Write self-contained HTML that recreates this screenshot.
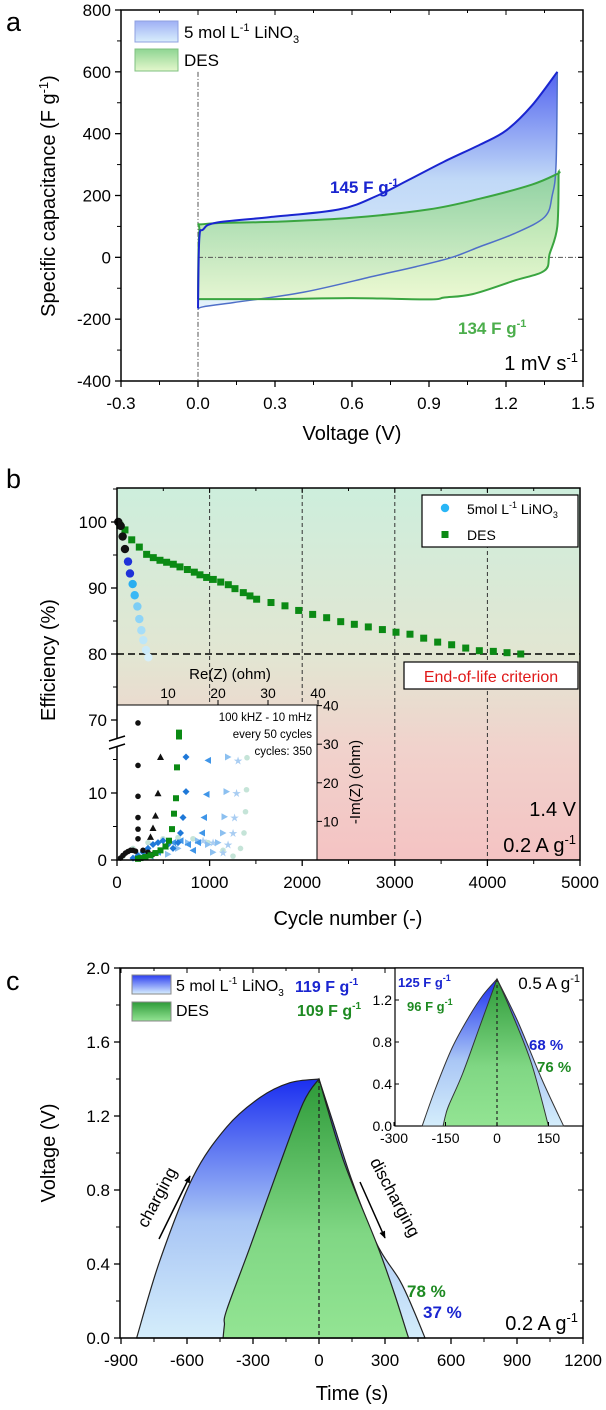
<!DOCTYPE html>
<html><head><meta charset="utf-8"><style>
html,body{margin:0;padding:0;background:#fff;}
svg{display:block;font-family:"Liberation Sans",Arial,sans-serif;}
</style></head><body>
<svg id="fig" width="606" height="1410" viewBox="0 0 606 1410" xmlns="http://www.w3.org/2000/svg">
<defs>
<linearGradient id="gBlueA" x1="0" y1="0" x2="0" y2="1"><stop offset="0" stop-color="#3f52ee"/><stop offset="0.45" stop-color="#b9d4f6"/><stop offset="1" stop-color="#e2f2fb"/></linearGradient>
<linearGradient id="gGreenA" x1="0" y1="0" x2="0" y2="1"><stop offset="0" stop-color="#7fcf85"/><stop offset="1" stop-color="#e6f7c4"/></linearGradient>
<linearGradient id="gBgB" x1="0" y1="0" x2="0" y2="1"><stop offset="0" stop-color="#cdeedc"/><stop offset="0.45" stop-color="#e2e6d2"/><stop offset="0.7" stop-color="#f1d2cc"/><stop offset="1" stop-color="#f4c3c3"/></linearGradient>
<linearGradient id="gBlueC" x1="0" y1="0" x2="0" y2="1"><stop offset="0" stop-color="#1a2ef0"/><stop offset="0.55" stop-color="#a9c6f5"/><stop offset="1" stop-color="#d4edfb"/></linearGradient>
<linearGradient id="gGreenC" x1="0" y1="0" x2="0" y2="1"><stop offset="0" stop-color="#2d9a38"/><stop offset="0.6" stop-color="#80d784"/><stop offset="1" stop-color="#93e493"/></linearGradient>
<linearGradient id="gSwB" x1="0" y1="0" x2="0" y2="1"><stop offset="0" stop-color="#2a3cf0"/><stop offset="1" stop-color="#d8efff"/></linearGradient>
<linearGradient id="gSwG" x1="0" y1="0" x2="0" y2="1"><stop offset="0" stop-color="#2d9a38"/><stop offset="1" stop-color="#93e493"/></linearGradient>
<linearGradient id="gSwBa" x1="0" y1="0" x2="0" y2="1"><stop offset="0" stop-color="#9fb0f5"/><stop offset="1" stop-color="#d9eefc"/></linearGradient>
<linearGradient id="gSwGa" x1="0" y1="0" x2="0" y2="1"><stop offset="0" stop-color="#8fd593"/><stop offset="1" stop-color="#e4f7cc"/></linearGradient>
<marker id="arr" viewBox="0 0 10 10" refX="9" refY="5" markerWidth="5" markerHeight="5" orient="auto"><path d="M0,1 L10,5 L0,9 z" fill="#000"/></marker>
</defs>
<g id="pa"></g>
<g id="pb"></g>
<g id="pc"></g>
</svg>
<script>
// ---------- Panel a data ----------
const cvLiUpV=[0,0.005,0.02,0.07,0.28,0.55,0.7,0.82,0.96,1.1,1.2,1.3,1.4];
const cvLiUpC=[-165,60,90,112,130,155,200,250,310,365,410,490,600];
const cvLiDnV=[1.4,1.395,1.38,1.35,1.23,1.1,0.99,0.85,0.69,0.41,0.14,0.02,0];
const cvLiDnC=[600,300,200,130,76,35,0,-30,-60,-113,-146,-160,-168];
const cvDesUpV=[0,0.005,0.03,0.3,0.6,0.9,1.1,1.3,1.4,1.405];
const cvDesUpC=[-135,80,108,115,128,155,190,235,270,276];
const cvDesDnV=[1.405,1.4,1.37,1.35,1.23,1.07,0.96,0.9,0.6,0.3,0];
const cvDesDnC=[276,100,11,-43,-76,-119,-130,-136,-132,-135,-135];
const aXTicks=[-0.3,0,0.3,0.6,0.9,1.2,1.5];
const aXLabels=["-0.3","0.0","0.3","0.6","0.9","1.2","1.5"];
const aYTicks=[-400,-200,0,200,400,600,800];
// ---------- Panel b data ----------
const desCycles=[30,86,159,241,320,392,464,536,608,680,760,835,896,968,1040,1120,1202,1274,1364,1436,1508,1663,1814,1962,2113,2264,2416,2563,2714,2866,3013,3164,3312,3463,3614,3766,3913,4064,4212,4360];
const desEff=[99.5,98.8,97.3,96.2,95.1,94.6,94.2,93.9,93.6,93.2,92.8,92.4,92.0,91.6,91.3,90.9,90.5,89.9,89.3,88.8,88.3,87.8,87.3,86.6,86.0,85.5,84.9,84.5,84.1,83.7,83.3,83.0,82.4,81.8,81.4,80.9,80.5,80.4,80.2,80.0];
const liCycles=[14,40,61,86,119,140,169,191,220,241,263,284,313,338];
const liEff=[100,99.4,97.8,95.9,94.0,92.2,90.6,88.9,87.2,85.3,83.6,82.1,80.6,79.5];
const liColors=["#111","#111","#111","#111","#1f32d8","#1f32d8","#29aef0","#3ab8f5","#7ccdf5","#8ed4f7","#a6ddf8","#bde6f8","#cbeaf9","#d6effa"];
const bXTicks=[0,1000,2000,3000,4000,5000];
const bYTicksUp=[70,80,90,100];
const bYTicksLow=[0,10];
// inset b (EIS)
const eisBlkRe=[4,4,4,4,4,4,0.5,1,1.5,2,2.5,3,3.5,5,6,7];
const eisBlkIm=[35.5,24.5,16.5,11,8,5.5,0.5,1.2,1.8,2.2,2.5,2.5,2.3,2.5,2,1.5];
const eisTriRe=[8.5,8,7.5,7,6.5];
const eisTriIm=[26.7,17.3,11.5,8.3,6];
const eisDesRe=[12.2,12.2,11.8,11.6,11.2,10.8,10.2,9.5,8.5,7.5,6.5,5.5,4.5,4];
const eisDesIm=[33,32,24,16,12,8,5,3.5,2.5,1.8,1.2,0.8,0.5,0.3];
const eisDiaRe=[13.6,13.6,13,12.5,12,11,10,9,8,7,6,5,4,3];
const eisDiaIm=[26.7,17.7,11,7,4.5,3,4,5,4.5,4,3,2,1.2,0.5];
const eisLtRe=[18,17.7,17.2,16.8,16,15,14,12.5,11,9.5,8,6.5];
const eisLtIm=[25.8,17,11,7,4.5,2.5,4,5,4.5,3.5,2,1];
const eisRtRe=[22,21.7,21.3,21,20,19,18,16,14,12,10];
const eisRtIm=[26.7,17.7,11.2,7,4.5,2,4,5,4.5,3,1.5];
const eisStarRe=[24,23.7,23.3,23,22,21,19,17];
const eisStarIm=[25.8,17.3,11,7,4,2,4.5,5];
const eisTealRe=[25.8,25.7,25.5,25.2,24.5,23,21,18,15,12,9,6,3,1];
const eisTealIm=[26.5,18.2,12.5,7,3,1,2.5,4.5,5.5,5.8,5.5,4.5,3,1];
const insXTicks=[10,20,30,40];
const insYTicks=[10,20,30,40];
// ---------- Panel c data ----------
const gcdLiChT=[-829,-723,-573,-420,-268,-132,0];
const gcdLiChV=[0,0.42,0.87,1.14,1.30,1.38,1.4];
const gcdLiDisT=[0,60,150,262,368,430,482];
const gcdLiDisV=[1.4,1.18,0.85,0.51,0.31,0.15,0];
const gcdDesChT=[-436,-430,-420,-314,-193,-72,0];
const gcdDesChV=[0,0.07,0.15,0.49,0.89,1.27,1.4];
const gcdDesDisT=[0,111,262,340,399,408];
const gcdDesDisV=[1.4,0.96,0.51,0.25,0.03,0];
const cXTicks=[-900,-600,-300,0,300,600,900,1200];
const cYTicks=[0,0.4,0.8,1.2,1.6,2.0];
// inset c
const inLiChT=[-218,-180,-130,-80,-40,0];
const inLiChV=[0,0.35,0.75,1.05,1.25,1.4];
const inLiDisT=[0,60,130,194];
const inLiDisV=[1.4,1.0,0.45,0];
const inDesChT=[-157,-150,-140,-100,-50,0];
const inDesChV=[0,0.1,0.2,0.5,0.95,1.4];
const inDesDisT=[0,40,100,150];
const inDesDisV=[1.4,1.1,0.6,0];
const icXTicks=[-300,-150,0,150];
const icYTicks=[0,0.4,0.8,1.2];

const NS="http://www.w3.org/2000/svg";
function mk(parent,tag,attrs,txt){const e=document.createElementNS(NS,tag);for(const k in attrs)e.setAttribute(k,attrs[k]);if(txt!==undefined)e.textContent=txt;parent.appendChild(e);return e;}
function pts(xs,ys,fx,fy){return xs.map((x,i)=>fx(x)+","+fy(ys[i])).join(" ");}
// smooth path through points (Catmull-Rom -> Bezier). start: 'M' or 'L'
function smooth(xs,ys,fx,fy,start){
 const P=xs.map((x,i)=>[fx(x),fy(ys[i])]);
 let d=(start||'M')+P[0][0].toFixed(2)+","+P[0][1].toFixed(2);
 for(let i=0;i<P.length-1;i++){
  const p0=P[i-1]||P[i],p1=P[i],p2=P[i+1],p3=P[i+2]||P[i+1];
  const c1=[p1[0]+(p2[0]-p0[0])/6,p1[1]+(p2[1]-p0[1])/6];
  const c2=[p2[0]-(p3[0]-p1[0])/6,p2[1]-(p3[1]-p1[1])/6];
  d+=" C"+c1[0].toFixed(2)+","+c1[1].toFixed(2)+" "+c2[0].toFixed(2)+","+c2[1].toFixed(2)+" "+p2[0].toFixed(2)+","+p2[1].toFixed(2);
 }
 return d;}

// ================= PANEL A =================
const pa=document.getElementById('pa');
const ax=v=>121+(v+0.3)*(462/1.8), ay=c=>10+(800-c)*(371/1200);
let el;
el=mk(pa,'text',{x:6,y:31,'font-size':27});el.textContent='a';


el=mk(pa,'path',{d:smooth(cvLiUpV,cvLiUpC,ax,ay)+" "+smooth(cvLiDnV,cvLiDnC,ax,ay,'L')+"Z",fill:'url(#gBlueA)',opacity:0.9});


el=mk(pa,'path',{d:smooth(cvDesUpV,cvDesUpC,ax,ay)+" "+smooth(cvDesDnV,cvDesDnC,ax,ay,'L')+"Z",fill:'url(#gGreenA)',opacity:0.75});


mk(pa,'line',{x1:ax(0),y1:ay(600),x2:ax(0),y2:ay(-400),stroke:'#555','stroke-width':1,'stroke-dasharray':'5,2,1,2'});
mk(pa,'line',{x1:ax(0),y1:ay(0),x2:ax(1.5),y2:ay(0),stroke:'#555','stroke-width':1,'stroke-dasharray':'5,2,1,2'});
el=mk(pa,'path',{d:smooth(cvLiDnV,cvLiDnC,ax,ay),fill:'none',stroke:'#4f6fc8','stroke-width':1.5});


el=mk(pa,'path',{d:smooth(cvDesUpV,cvDesUpC,ax,ay)+" "+smooth(cvDesDnV,cvDesDnC,ax,ay,'L'),fill:'none',stroke:'#3aa540','stroke-width':2});


el=mk(pa,'path',{d:smooth(cvLiUpV,cvLiUpC,ax,ay),fill:'none',stroke:'#1a25d0','stroke-width':2});


mk(pa,'rect',{x:121,y:10,width:462,height:371,fill:'none',stroke:'#000','stroke-width':1.5});
aXTicks.forEach((v,i)=>{mk(pa,'line',{x1:ax(v),y1:381,x2:ax(v),y2:387,stroke:'#000','stroke-width':1.3});mk(pa,'line',{x1:ax(v),y1:10,x2:ax(v),y2:15,stroke:'#000'});
 if(i<aXTicks.length-1){const m=ax(v+0.15);mk(pa,'line',{x1:m,y1:381,x2:m,y2:385,stroke:'#000'});mk(pa,'line',{x1:m,y1:10,x2:m,y2:13,stroke:'#000'});}
 el=mk(pa,'text',{x:ax(v),y:409,'font-size':17,'text-anchor':'middle'},aXLabels[i]);
 
 });
aYTicks.forEach((c,i)=>{mk(pa,'line',{x1:115,y1:ay(c),x2:121,y2:ay(c),stroke:'#000','stroke-width':1.3});mk(pa,'line',{x1:578,y1:ay(c),x2:583,y2:ay(c),stroke:'#000'});
 if(i<aYTicks.length-1){const m=ay(c+100);mk(pa,'line',{x1:117,y1:m,x2:121,y2:m,stroke:'#000'});mk(pa,'line',{x1:580,y1:m,x2:583,y2:m,stroke:'#000'});}
 el=mk(pa,'text',{x:111,y:ay(c)+6,'font-size':17,'text-anchor':'end'},String(c));
 
 });
</script>
<script>
(function(){
const pa=document.getElementById('pa');
pa.insertAdjacentHTML('beforeend',`
<text x="352" y="440" font-size="20" text-anchor="middle">Voltage (V)</text>
<text transform="translate(55,196) rotate(-90)" font-size="20" text-anchor="middle">Specific capacitance (F g<tspan dy="-7" font-size="13">-1</tspan><tspan dy="7">)</tspan></text>
<g>
<rect x="135" y="21" width="43" height="21" fill="url(#gSwBa)" stroke="#8fa0e0"/>
<text x="184" y="38" font-size="17">5 mol L<tspan dy="-7" font-size="11">-1</tspan><tspan dy="7"> LiNO</tspan><tspan dy="5" font-size="11">3</tspan></text>
<rect x="135" y="49" width="43" height="22" fill="url(#gSwGa)" stroke="#7fc080"/>
<text x="184" y="66" font-size="17">DES</text>
</g>
<text x="330" y="193" font-size="17" font-weight="bold" fill="#1a25d0">145 F g<tspan dy="-7" font-size="11">-1</tspan></text>
<text x="458" y="334" font-size="17" font-weight="bold" fill="#4cae4c">134 F g<tspan dy="-7" font-size="11">-1</tspan></text>
<text x="578" y="370" font-size="20" text-anchor="end">1 mV s<tspan dy="-8" font-size="13">-1</tspan></text>
`);
})();
</script>
<script>
// ================= PANEL B =================
(function(){
const pb=document.getElementById('pb');
const bx=c=>117+c*0.0926, by=e=>522+(100-e)*6.6, bl=e=>860-e*6.7;
let el;
el=mk(pb,'rect',{x:117,y:488,width:463,height:372,fill:'url(#gBgB)'});


[1000,2000,3000,4000].forEach(c=>{el=mk(pb,'line',{x1:bx(c),y1:488,x2:bx(c),y2:860,stroke:'#333','stroke-dasharray':'4,3','stroke-width':1});
 
 });
el=mk(pb,'line',{x1:117,y1:by(80),x2:580,y2:by(80),stroke:'#000','stroke-dasharray':'7,4','stroke-width':1.6});


desCycles.forEach((c,i)=>{el=mk(pb,'rect',{x:bx(c)-3.5,y:by(desEff[i])-3.5,width:7,height:7,fill:'#0b8a14'});
 
 });
liCycles.forEach((c,i)=>{el=mk(pb,'circle',{cx:bx(c),cy:by(liEff[i]),r:4.2,fill:liColors[i]});
 
 });
const ix=r=>118+r*5, iy=m=>860-m*3.86;
el=mk(pb,'rect',{x:117,y:705,width:200,height:155,fill:'#fff'});


function ser(re,im,shape,col,name){re.forEach((r,i)=>{const x=ix(r),y=iy(im[i]);let e;
 if(shape==='c')e=mk(pb,'circle',{cx:x,cy:y,r:2.8,fill:col});
 else if(shape==='s')e=mk(pb,'rect',{x:x-3,y:y-3,width:6,height:6,fill:col});
 else if(shape==='t')e=mk(pb,'polygon',{points:`${x},${y-3.5} ${x+3.5},${y+3} ${x-3.5},${y+3}`,fill:col});
 else if(shape==='l')e=mk(pb,'polygon',{points:`${x-3.5},${y} ${x+3},${y-3.5} ${x+3},${y+3.5}`,fill:col});
 else if(shape==='r')e=mk(pb,'polygon',{points:`${x+3.5},${y} ${x-3},${y-3.5} ${x-3},${y+3.5}`,fill:col});
 else if(shape==='d')e=mk(pb,'polygon',{points:`${x},${y-3.5} ${x+3.5},${y} ${x},${y+3.5} ${x-3.5},${y}`,fill:col});
 else e=mk(pb,'text',{x:x,y:y+4,'font-size':11,'text-anchor':'middle',fill:col},'★');
 
 });}
ser(eisTealRe,eisTealIm,'c','#c5e4d8','eis-point-350');
ser(eisStarRe,eisStarIm,'*','#a9cdf2','eis-point-300');
ser(eisRtRe,eisRtIm,'r','#8cc0f0','eis-point-250');
ser(eisLtRe,eisLtIm,'l','#3f95e8','eis-point-200');
ser(eisDiaRe,eisDiaIm,'d','#1e78d8','eis-point-150');
ser(eisTriRe,eisTriIm,'t','#111','eis-point-100');
ser(eisBlkRe,eisBlkIm,'c','#111','eis-point-50');
ser(eisDesRe,eisDesIm,'s','#0b8a14','eis-point-des');
mk(pb,'line',{x1:317,y1:705,x2:317,y2:860,stroke:'#000'});
mk(pb,'line',{x1:117,y1:705,x2:317,y2:705,stroke:'#000'});
insXTicks.forEach(r=>{mk(pb,'line',{x1:ix(r),y1:705,x2:ix(r),y2:700,stroke:'#000'});
 el=mk(pb,'text',{x:ix(r),y:698,'font-size':14,'text-anchor':'middle'},String(r));
 
 });
insYTicks.forEach(m=>{mk(pb,'line',{x1:317,y1:iy(m),x2:322,y2:iy(m),stroke:'#000'});
 el=mk(pb,'text',{x:323,y:iy(m)+5,'font-size':14},String(m));
 
 });
mk(pb,'rect',{x:117,y:488,width:463,height:372,fill:'none',stroke:'#000','stroke-width':1.5});
bXTicks.forEach((c,i)=>{mk(pb,'line',{x1:bx(c),y1:860,x2:bx(c),y2:866,stroke:'#000','stroke-width':1.3});mk(pb,'line',{x1:bx(c),y1:488,x2:bx(c),y2:493,stroke:'#000'});
 if(i<bXTicks.length-1){mk(pb,'line',{x1:bx(c+500),y1:860,x2:bx(c+500),y2:864,stroke:'#000'});mk(pb,'line',{x1:bx(c+500),y1:488,x2:bx(c+500),y2:491,stroke:'#000'});}
 el=mk(pb,'text',{x:bx(c),y:888,'font-size':17,'text-anchor':'middle'},String(c));
 
 });
bYTicksUp.forEach(e=>{mk(pb,'line',{x1:111,y1:by(e),x2:117,y2:by(e),stroke:'#000','stroke-width':1.3});mk(pb,'line',{x1:113,y1:by(e+5),x2:117,y2:by(e+5),stroke:'#000'});
 el=mk(pb,'text',{x:107,y:by(e)+6,'font-size':17,'text-anchor':'end'},String(e));
 
 });
bYTicksLow.forEach(e=>{mk(pb,'line',{x1:111,y1:bl(e),x2:117,y2:bl(e),stroke:'#000','stroke-width':1.3});mk(pb,'line',{x1:113,y1:bl(e+5),x2:117,y2:bl(e+5),stroke:'#000'});
 el=mk(pb,'text',{x:107,y:bl(e)+6,'font-size':17,'text-anchor':'end'},String(e));
 
 });
pb.insertAdjacentHTML('beforeend',`
<g><rect x="108" y="738" width="18" height="9" fill="#fff"/><line x1="109" y1="741" x2="125" y2="736" stroke="#000" stroke-width="1.5"/><line x1="109" y1="749" x2="125" y2="744" stroke="#000" stroke-width="1.5"/></g>
<text x="6" y="488" font-size="27">b</text>
<text x="348" y="925" font-size="20" text-anchor="middle">Cycle number (-)</text>
<text transform="translate(55,660) rotate(-90)" font-size="20" text-anchor="middle">Efficiency (%)</text>
<g>
<rect x="422" y="495" width="156" height="52" fill="#fff" stroke="#000" stroke-width="1.2"/>
<circle cx="445" cy="508" r="4.2" fill="#29b6f6"/>
<text x="467" y="514" font-size="14">5mol L<tspan dy="-6" font-size="9">-1</tspan><tspan dy="6"> LiNO</tspan><tspan dy="4" font-size="9">3</tspan></text>
<rect x="441.5" y="531" width="7" height="7" fill="#0b8a14"/>
<text x="467" y="540" font-size="14">DES</text>
</g>
<g><rect x="404" y="662" width="174" height="27" fill="#fff" stroke="#000" stroke-width="1.2"/><text x="491" y="682" font-size="16" fill="#e01818" text-anchor="middle">End-of-life criterion</text></g>
<text x="230" y="679" font-size="15" text-anchor="middle">Re(Z) (ohm)</text>
<text transform="translate(360,782) rotate(-90)" font-size="15" text-anchor="middle">-Im(Z) (ohm)</text>
<text font-size="11.5" text-anchor="end"><tspan x="312" y="721">100 kHZ - 10 mHz</tspan><tspan x="312" y="738">every 50 cycles</tspan><tspan x="312" y="755">cycles: 350</tspan></text>
<text x="576" y="816" font-size="20" text-anchor="end">1.4 V</text>
<text x="576" y="852" font-size="20" text-anchor="end">0.2 A g<tspan dy="-8" font-size="13">-1</tspan></text>
`);
})();
</script>
<script>
// ================= PANEL C =================
(function(){
const pc=document.getElementById('pc');
const cx=t=>319+t*0.22, cy=v=>1338-v*185;
let el;
el=mk(pc,'path',{d:smooth(gcdLiChT,gcdLiChV,cx,cy)+" "+smooth(gcdLiDisT,gcdLiDisV,cx,cy,'L')+"Z",fill:'url(#gBlueC)',stroke:'#222','stroke-width':1.2});


el=mk(pc,'path',{d:smooth(gcdDesChT,gcdDesChV,cx,cy)+" "+smooth(gcdDesDisT,gcdDesDisV,cx,cy,'L')+"Z",fill:'url(#gGreenC)',stroke:'#222','stroke-width':1.2});


mk(pc,'line',{x1:cx(0),y1:cy(1.4),x2:cx(0),y2:cy(0),stroke:'#222','stroke-dasharray':'4,3','stroke-width':1.3});
mk(pc,'rect',{x:120,y:968,width:463,height:370,fill:'none',stroke:'#000','stroke-width':1.5});
cXTicks.forEach((t,i)=>{mk(pc,'line',{x1:cx(t),y1:1338,x2:cx(t),y2:1344,stroke:'#000','stroke-width':1.3});mk(pc,'line',{x1:cx(t),y1:968,x2:cx(t),y2:973,stroke:'#000'});
 if(i<cXTicks.length-1){mk(pc,'line',{x1:cx(t+150),y1:1338,x2:cx(t+150),y2:1342,stroke:'#000'});mk(pc,'line',{x1:cx(t+150),y1:968,x2:cx(t+150),y2:971,stroke:'#000'});}
 el=mk(pc,'text',{x:cx(t),y:1366,'font-size':17,'text-anchor':'middle'},String(t));
 
 });
cYTicks.forEach((v,i)=>{mk(pc,'line',{x1:114,y1:cy(v),x2:120,y2:cy(v),stroke:'#000','stroke-width':1.3});mk(pc,'line',{x1:578,y1:cy(v),x2:583,y2:cy(v),stroke:'#000'});
 if(i<cYTicks.length-1){mk(pc,'line',{x1:116,y1:cy(v+0.2),x2:120,y2:cy(v+0.2),stroke:'#000'});mk(pc,'line',{x1:580,y1:cy(v+0.2),x2:583,y2:cy(v+0.2),stroke:'#000'});}
 el=mk(pc,'text',{x:110,y:cy(v)+6,'font-size':17,'text-anchor':'end'},v.toFixed(1));
 
 });
const jx=t=>497+t*0.3433, jy=v=>1126-v*105;
el=mk(pc,'rect',{x:395,y:968,width:188,height:158,fill:'#fff',stroke:'#000','stroke-width':1.2});


el=mk(pc,'path',{d:smooth(inLiChT,inLiChV,jx,jy)+" "+smooth(inLiDisT,inLiDisV,jx,jy,'L')+"Z",fill:'url(#gBlueC)',stroke:'#333','stroke-width':1});


el=mk(pc,'path',{d:smooth(inDesChT,inDesChV,jx,jy)+" "+smooth(inDesDisT,inDesDisV,jx,jy,'L')+"Z",fill:'url(#gGreenC)',stroke:'#333','stroke-width':1});


mk(pc,'line',{x1:jx(0),y1:jy(1.4),x2:jx(0),y2:jy(0),stroke:'#222','stroke-dasharray':'3,3','stroke-width':1.2});
icXTicks.forEach(t=>{mk(pc,'line',{x1:jx(t),y1:1126,x2:jx(t),y2:1122,stroke:'#000'});
 el=mk(pc,'text',{x:jx(t),y:1143,'font-size':14,'text-anchor':'middle'},String(t));
 
 });
icYTicks.forEach(v=>{mk(pc,'line',{x1:395,y1:jy(v),x2:399,y2:jy(v),stroke:'#000'});mk(pc,'line',{x1:579,y1:jy(v),x2:583,y2:jy(v),stroke:'#000'});
 el=mk(pc,'text',{x:392,y:jy(v)+5,'font-size':14,'text-anchor':'end'},v.toFixed(1));
 
 });
pc.insertAdjacentHTML('beforeend',`
<text x="6" y="990" font-size="27">c</text>
<text x="352" y="1400" font-size="20" text-anchor="middle">Time (s)</text>
<text transform="translate(55,1153) rotate(-90)" font-size="20" text-anchor="middle">Voltage (V)</text>
<g>
<rect x="132" y="975" width="39" height="19" fill="url(#gSwB)" stroke="#888"/>
<text x="176" y="991" font-size="16">5 mol L<tspan dy="-7" font-size="10">-1</tspan><tspan dy="7"> LiNO</tspan><tspan dy="5" font-size="10">3</tspan></text>
<rect x="132" y="1002" width="39" height="19" fill="url(#gSwG)" stroke="#888"/>
<text x="176" y="1016" font-size="16">DES</text>
</g>
<text x="295" y="992" font-size="16" font-weight="bold" fill="#1a25d0">119 F g<tspan dy="-7" font-size="10">-1</tspan></text>
<text x="297" y="1016" font-size="16" font-weight="bold" fill="#1e8a22">109 F g<tspan dy="-7" font-size="10">-1</tspan></text>
<text x="398" y="987" font-size="13" font-weight="bold" fill="#1a25d0">125 F g<tspan dy="-6" font-size="9">-1</tspan></text>
<text x="407" y="1011" font-size="13" font-weight="bold" fill="#1e8a22">96 F g<tspan dy="-6" font-size="9">-1</tspan></text>
<text x="580" y="989" font-size="17" text-anchor="end">0.5 A g<tspan dy="-7" font-size="11">-1</tspan></text>
<text x="529" y="1050" font-size="15" font-weight="bold" fill="#1a25d0">68 %</text>
<text x="537" y="1072" font-size="15" font-weight="bold" fill="#1e8a22">76 %</text>
<text transform="translate(162,1200) rotate(-62)" font-size="17" text-anchor="middle">charging</text>
<line x1="159" y1="1239" x2="190" y2="1176" stroke="#000" stroke-width="1.5" marker-end="url(#arr)"/>
<text transform="translate(390,1200) rotate(62)" font-size="17" text-anchor="middle">discharging</text>
<line x1="360" y1="1182" x2="385" y2="1238" stroke="#000" stroke-width="1.5" marker-end="url(#arr)"/>
<text x="407" y="1297" font-size="17" font-weight="bold" fill="#1e8a22">78 %</text>
<text x="423" y="1318" font-size="17" font-weight="bold" fill="#1a25d0">37 %</text>
<text x="578" y="1330" font-size="20" text-anchor="end">0.2 A g<tspan dy="-8" font-size="13">-1</tspan></text>
`);
})();
</script>
</body></html>
